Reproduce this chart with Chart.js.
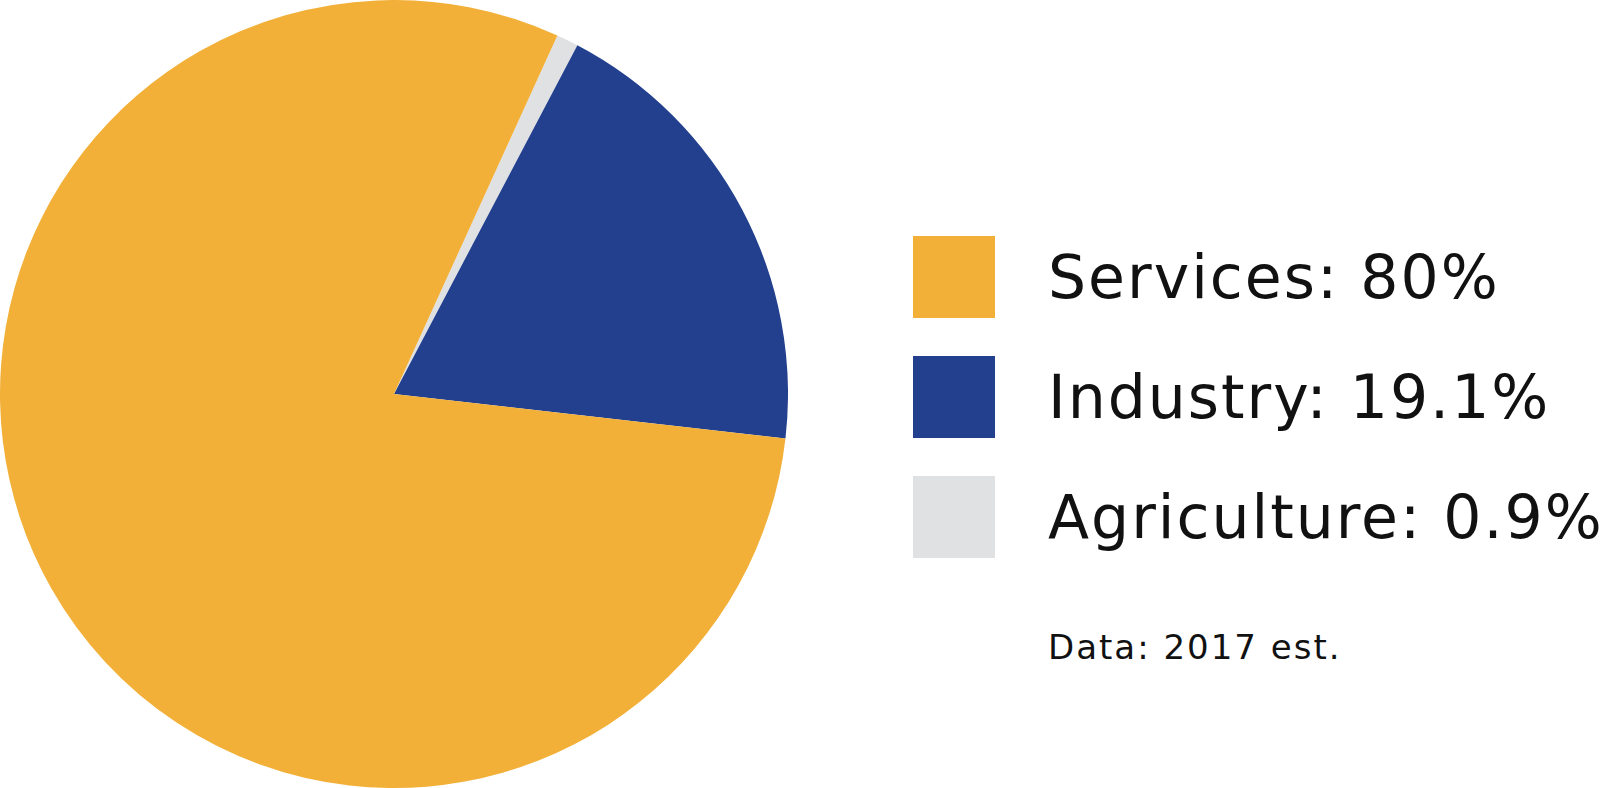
<!DOCTYPE html>
<html>
<head>
<meta charset="utf-8">
<script src="https://cdn.jsdelivr.net/npm/chart.js@4/dist/chart.umd.min.js"></script>
<style>
  body { margin: 0; background: #fff; width: 1608px; height: 788px; overflow: hidden; font-family: "DejaVu Sans", sans-serif; }
  #pieBox { position: absolute; left: 0; top: 0; width: 788px; height: 788px; }
  #legend { position: absolute; left: 913px; top: 236px; }
  .row { display: flex; align-items: center; height: 82px; margin-bottom: 38px; }
  .swatch { width: 82px; height: 82px; margin-right: 53px; }
  .label { font-size: 60px; line-height: 1; letter-spacing: 2px; color: #111; white-space: nowrap; }
  #note { position: absolute; left: 1048px; top: 630px; font-size: 34px; line-height: 1; letter-spacing: 2px; color: #111; }
</style>
</head>
<body>
<div id="pieBox"><canvas id="myCanvas"></canvas></div>
<div id="legend"></div>
<div id="note">Data: 2017 est.</div>
<script>
// data, in the order drawn clockwise from the top
const sectors = ["Agriculture", "Industry", "Services"];
const shares = [0.9, 19.1, 80];
const colors = ["#E0E1E3", "#23408E", "#F2B038"];
// legend order as printed
const legendOrder = ["Services", "Industry", "Agriculture"];

const legendEl = document.getElementById('legend');
legendOrder.forEach(function (name) {
  const i = sectors.indexOf(name);
  const row = document.createElement('div');
  row.className = 'row';
  row.innerHTML = '<div class="swatch" style="background:' + colors[i] + '"></div>' +
    '<div class="label">' + name + ': ' + shares[i] + '%</div>';
  legendEl.appendChild(row);
});

const canvas = document.getElementById('myCanvas');
if (canvas) {
  const ctx = canvas.getContext('2d');
  new Chart(ctx, {
    type: 'pie',
    data: {
      labels: sectors,
      datasets: [{
        data: shares,
        backgroundColor: colors,
        borderWidth: 0
      }]
    },
    options: {
      responsive: true,
      maintainAspectRatio: false,
      animation: false,
      rotation: 24.5,
      layout: { padding: 0 },
      plugins: {
        legend: { display: false },
        tooltip: { enabled: false }
      }
    }
  });
} else {
  console.error('Canvas element not found.');
}
</script>
</body>
</html>
